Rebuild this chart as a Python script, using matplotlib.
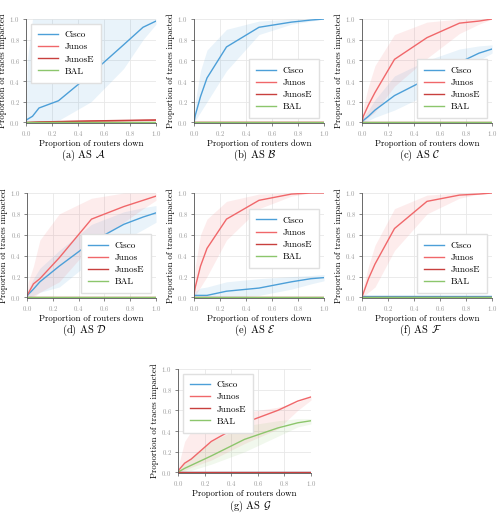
import numpy as np
import matplotlib
matplotlib.use('Agg')
import matplotlib.pyplot as plt

plt.rcParams['font.family'] = 'serif'
plt.rcParams['font.serif'] = ['cmr10', 'DejaVu Serif']
plt.rcParams['mathtext.fontset'] = 'cm'
plt.rcParams['axes.unicode_minus'] = False
plt.rcParams['axes.formatter.use_mathtext'] = True

# x positions (proportion of routers down)
x = [0.0, 0.01, 0.05, 0.1, 0.25, 0.5, 0.75, 0.9, 1.0]
series_names = ['Cisco', 'Junos', 'JunosE', 'BAL']
colors = {'Cisco': '#4c9fd8', 'Junos': '#f0676a', 'JunosE': '#c8403e', 'BAL': '#8cc66c'}
zero = [0, 0, 0, 0, 0, 0, 0, 0, 0]

# AS A
a_cisco = [0.02, 0.03, 0.06, 0.14, 0.21, 0.47, 0.75, 0.92, 0.98]
a_cisco_lo = [0.0, 0.0, 0.0, 0.0, 0.02, 0.2, 0.52, 0.8, 0.95]
a_cisco_hi = [0.04, 0.6, 1.0, 1.0, 1.0, 1.0, 1.0, 1.0, 1.0]
a_junos = [0.0, 0.0, 0.002, 0.004, 0.007, 0.012, 0.016, 0.019, 0.02]
a_junose = [0.0, 0.0, 0.002, 0.005, 0.009, 0.015, 0.02, 0.023, 0.025]

# AS B
b_cisco = [0.0, 0.07, 0.25, 0.43, 0.73, 0.92, 0.97, 0.99, 1.0]
b_cisco_lo = [0.0, 0.02, 0.1, 0.2, 0.5, 0.85, 0.95, 0.98, 1.0]
b_cisco_hi = [0.0, 0.2, 0.5, 0.7, 0.9, 0.98, 1.0, 1.0, 1.0]

# AS C
c_cisco = [0.0, 0.02, 0.06, 0.12, 0.26, 0.42, 0.58, 0.67, 0.71]
c_cisco_lo = [0.0, 0.0, 0.02, 0.05, 0.12, 0.27, 0.45, 0.6, 0.67]
c_cisco_hi = [0.0, 0.05, 0.12, 0.22, 0.45, 0.6, 0.71, 0.74, 0.75]
c_junos = [0.0, 0.06, 0.17, 0.29, 0.61, 0.82, 0.96, 0.98, 1.0]
c_junos_lo = [0.0, 0.01, 0.05, 0.1, 0.35, 0.62, 0.86, 0.95, 1.0]
c_junos_hi = [0.0, 0.15, 0.35, 0.55, 0.85, 0.97, 1.0, 1.0, 1.0]

# AS D
d_cisco = [0.01, 0.03, 0.08, 0.15, 0.3, 0.53, 0.7, 0.77, 0.81]
d_cisco_lo = [0.0, 0.0, 0.02, 0.05, 0.1, 0.35, 0.55, 0.65, 0.72]
d_cisco_hi = [0.02, 0.08, 0.18, 0.28, 0.45, 0.7, 0.82, 0.86, 0.88]
d_junos = [0.02, 0.04, 0.13, 0.18, 0.38, 0.75, 0.87, 0.93, 0.97]
d_junos_lo = [0.0, 0.0, 0.0, 0.05, 0.15, 0.5, 0.72, 0.85, 0.93]
d_junos_hi = [0.05, 0.15, 0.3, 0.55, 0.8, 0.95, 1.0, 1.0, 1.0]

# AS E
e_cisco = [0.02, 0.02, 0.02, 0.02, 0.06, 0.09, 0.15, 0.18, 0.19]
e_cisco_lo = [0.0, 0.0, 0.0, 0.0, 0.0, 0.02, 0.08, 0.13, 0.16]
e_cisco_hi = [0.03, 0.06, 0.09, 0.1, 0.15, 0.18, 0.2, 0.21, 0.22]
e_junos = [0.03, 0.1, 0.3, 0.47, 0.75, 0.93, 0.99, 1.0, 1.0]
e_junos_lo = [0.0, 0.02, 0.1, 0.2, 0.55, 0.85, 0.97, 1.0, 1.0]
e_junos_hi = [0.08, 0.3, 0.6, 0.75, 0.92, 0.99, 1.0, 1.0, 1.0]

# AS F
f_cisco = [0.01, 0.01, 0.01, 0.01, 0.01, 0.01, 0.01, 0.01, 0.01]
f_junos = [0.0, 0.04, 0.18, 0.32, 0.66, 0.92, 0.98, 0.99, 1.0]
f_junos_lo = [0.0, 0.01, 0.05, 0.1, 0.45, 0.8, 0.95, 0.99, 1.0]
f_junos_hi = [0.0, 0.1, 0.3, 0.5, 0.85, 0.98, 1.0, 1.0, 1.0]

# AS G
g_junos = [0.0, 0.03, 0.09, 0.13, 0.3, 0.48, 0.6, 0.69, 0.73]
g_junos_lo = [0.0, 0.0, 0.02, 0.05, 0.12, 0.28, 0.42, 0.6, 0.7]
g_junos_hi = [0.0, 0.1, 0.3, 0.4, 0.5, 0.58, 0.63, 0.68, 0.74]
g_bal = [0.0, 0.01, 0.04, 0.07, 0.16, 0.32, 0.43, 0.48, 0.5]
g_bal_lo = [0.0, 0.0, 0.01, 0.02, 0.08, 0.2, 0.35, 0.44, 0.47]
g_bal_hi = [0.0, 0.03, 0.1, 0.15, 0.3, 0.45, 0.5, 0.52, 0.52]

panels = [
    # (label, letter, means, bands, legend loc, legend anchor, axes px [l, r, t, b], caption px [x, y])
    ('(a)', 'A', {'Cisco': a_cisco, 'Junos': a_junos, 'JunosE': a_junose, 'BAL': zero},
     {'Cisco': (a_cisco_lo, a_cisco_hi)}, 'upper left', (0.0, 1.0), [26, 156, 19, 123], [83, 155]),
    ('(b)', 'B', {'Cisco': b_cisco, 'Junos': zero, 'JunosE': zero, 'BAL': zero},
     {'Cisco': (b_cisco_lo, b_cisco_hi)}, 'lower right', (1.0, 0.0), [194, 324, 19, 123], [255, 155]),
    ('(c)', 'C', {'Cisco': c_cisco, 'Junos': c_junos, 'JunosE': zero, 'BAL': zero},
     {'Cisco': (c_cisco_lo, c_cisco_hi), 'Junos': (c_junos_lo, c_junos_hi)}, 'lower right', (1.0, 0.0),
     [362, 492, 19, 123], [420, 155]),
    ('(d)', 'D', {'Cisco': d_cisco, 'Junos': d_junos, 'JunosE': zero, 'BAL': zero},
     {'Cisco': (d_cisco_lo, d_cisco_hi), 'Junos': (d_junos_lo, d_junos_hi)}, 'lower right', (1.0, 0.0),
     [27, 156, 193, 298], [84, 330]),
    ('(e)', 'E', {'Cisco': e_cisco, 'Junos': e_junos, 'JunosE': zero, 'BAL': zero},
     {'Cisco': (e_cisco_lo, e_cisco_hi), 'Junos': (e_junos_lo, e_junos_hi)}, 'lower right', (1.0, 0.24),
     [194, 324, 193, 298], [255, 330]),
    ('(f)', 'F', {'Cisco': f_cisco, 'Junos': f_junos, 'JunosE': zero, 'BAL': zero},
     {'Junos': (f_junos_lo, f_junos_hi)}, 'lower right', (1.0, 0.0), [362, 492, 193, 298], [420, 330]),
    ('(g)', 'G', {'Cisco': zero, 'Junos': g_junos, 'BAL': g_bal, 'JunosE': zero},
     {'Junos': (g_junos_lo, g_junos_hi), 'BAL': (g_bal_lo, g_bal_hi)}, 'upper left', (0.0, 1.0),
     [178, 311, 369, 473], [250, 506]),
]

W, H = 503, 517
fig = plt.figure(figsize=(W / 100, H / 100), dpi=100)

for lab, letter, means, bands, loc, anchor, px, cap in panels:
    l, r, t, b = px
    ax = fig.add_axes([l / W, 1 - b / H, (r - l) / W, (b - t) / H])
    for name, (lo, hi) in bands.items():
        ax.fill_between(x, lo, hi, color=colors[name], alpha=0.12, lw=0)
    for name in means:
        ax.plot(x, means[name], color=colors[name], lw=1.0, label=name)
    handles, labels = ax.get_legend_handles_labels()
    order = [labels.index(n) for n in series_names]
    ax.legend([handles[i] for i in order], series_names, loc=loc, bbox_to_anchor=anchor,
              fontsize=6.6, frameon=True, edgecolor='#e0e0e0', framealpha=1, fancybox=False,
              handlelength=2.2, borderpad=0.8, labelspacing=0.4, handletextpad=0.7,
              borderaxespad=0.5)
    ax.set_xlim(0, 1)
    ax.set_ylim(-0.005, 1.0)
    ax.set_xticks(np.arange(0, 1.01, 0.2))
    ax.set_yticks(np.arange(0, 1.01, 0.2))
    ax.grid(True, color='#e8e8e8', lw=0.6)
    ax.set_axisbelow(True)
    for s in ['top', 'right']:
        ax.spines[s].set_visible(False)
    for s in ['left', 'bottom']:
        ax.spines[s].set_color('#555555')
        ax.spines[s].set_linewidth(0.6)
    ax.tick_params(labelsize=4.8, colors='#555555', labelcolor='#999999',
                   length=2.5, width=0.5, pad=2)
    ax.set_xlabel('Proportion of routers down', fontsize=6.3, labelpad=1)
    ax.set_ylabel('Proportion of traces impacted', fontsize=6.3, labelpad=1.5)
    fig.text(cap[0] / W, 1 - cap[1] / H, lab + r' AS $\mathcal{' + letter + '}$',
             fontsize=7.6, ha='center', va='center')

fig.savefig('out.png', dpi=100)
